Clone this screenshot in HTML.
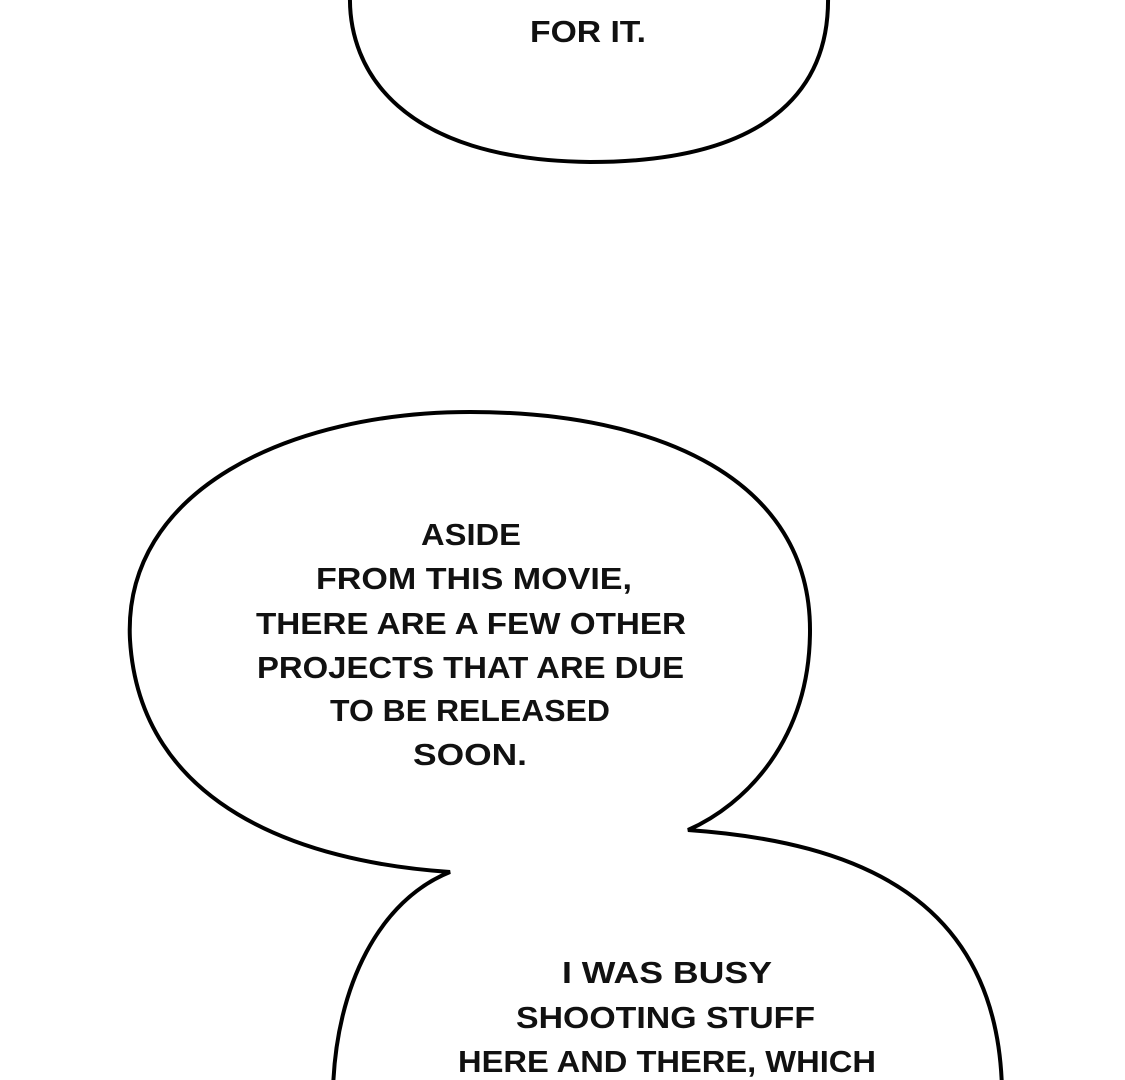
<!DOCTYPE html>
<html><head><style>html,body{margin:0;padding:0;background:#fff;}svg{display:block}</style></head>
<body>
<svg width="1125" height="1080" viewBox="0 0 1125 1080" xmlns="http://www.w3.org/2000/svg">
<rect width="1125" height="1080" fill="#fff"/>
<path d="M350,-5 C348,70 400,160 590,162 C780,162 830,80 828,-5" fill="#fff" stroke="#000" stroke-width="4"/>
<path d="M450,872 C300,862 140,805 130,640 C122,490 290,412 470,412 C660,412 810,480 810,630 C810,740 745,805 688,830 C860,842 998,900 1002,1090 L333,1090 C336,985 380,900 450,872 Z" fill="#fff" stroke="#000" stroke-width="4" stroke-linejoin="miter"/>
<g font-family="Liberation Sans, sans-serif" font-weight="bold" font-size="31" fill="#111" lengthAdjust="spacingAndGlyphs">
<text x="530" y="42" textLength="116" lengthAdjust="spacingAndGlyphs">FOR IT.</text>
<text x="421" y="545" textLength="100" lengthAdjust="spacingAndGlyphs">ASIDE</text>
<text x="316" y="589" textLength="316" lengthAdjust="spacingAndGlyphs">FROM THIS MOVIE,</text>
<text x="256" y="634" textLength="430" lengthAdjust="spacingAndGlyphs">THERE ARE A FEW OTHER</text>
<text x="257" y="678" textLength="427" lengthAdjust="spacingAndGlyphs">PROJECTS THAT ARE DUE</text>
<text x="330" y="721" textLength="280" lengthAdjust="spacingAndGlyphs">TO BE RELEASED</text>
<text x="413" y="765" textLength="114" lengthAdjust="spacingAndGlyphs">SOON.</text>
<text x="562" y="983" textLength="210" lengthAdjust="spacingAndGlyphs">I WAS BUSY</text>
<text x="516" y="1028" textLength="299" lengthAdjust="spacingAndGlyphs">SHOOTING STUFF</text>
<text x="458" y="1072" textLength="418" lengthAdjust="spacingAndGlyphs">HERE AND THERE, WHICH</text>
</g>
</svg>
</body></html>
